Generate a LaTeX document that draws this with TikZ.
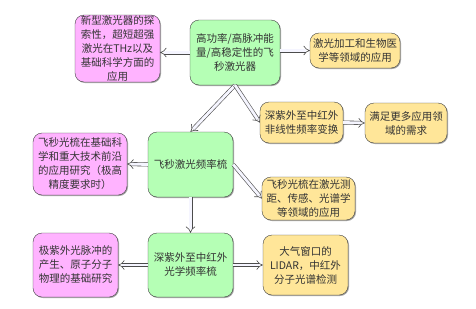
\documentclass[tikz,border=0pt]{standalone}
\usepackage{fontspec}
\newfontfamily\cjk{Noto Sans CJK SC}
\usetikzlibrary{arrows.meta,shadows}
\definecolor{boxpink}{HTML}{FFB3FF}
\definecolor{boxgreen}{HTML}{B5FFB5}
\definecolor{boxyellow}{HTML}{FFE699}

\begin{document}
\begin{tikzpicture}[x=1pt, y=-1pt,
  box/.style={draw=black!75, rounded corners=9pt, inner sep=0pt,
              align=center, text=black!80,
              font=\cjk\fontsize{10.5}{14}\selectfont,
              drop shadow={shadow xshift=1pt, shadow yshift=-1pt,
                           fill=black!60, opacity=.6}},
  srcbox/.style={box, fill=boxgreen},
  usebox/.style={box, fill=boxyellow},
  sciencebox/.style={box, fill=boxpink},
  flow/.style={draw=black!70, line width=0.6pt, double=blue!4,
               double distance=2.8pt, -{Implies[scale=1.2]}},
]
\useasboundingbox (0,0) rectangle (476,308);

% top row
\node[sciencebox, minimum width=85pt, minimum height=67pt] (newtype) at (117.5, 48.5)
  {新型激光器的探\\索性，超短超强\\激光在THz以及\\基础科学方面的\\应用};
\node[srcbox, minimum width=90pt, minimum height=65pt] (laser) at (235, 52.5)
  {高功率/高脉冲能\\量/高稳定性的飞\\秒激光器};
\node[usebox, minimum width=90pt, minimum height=35pt] (proc) at (355, 50.5)
  {激光加工和生物医\\学等领域的应用};

% conversion
\node[usebox, minimum width=83pt, minimum height=41pt] (nlf) at (301.5, 122.5)
  {深紫外至中红外\\非线性频率变换};
\node[usebox, minimum width=82pt, minimum height=40pt] (demand) at (406, 123)
  {满足更多应用领\\域的需求};

% frequency comb
\node[sciencebox, minimum width=94pt, minimum height=62pt] (basic) at (80, 164)
  {飞秒光梳在基础科\\学和重大技术前沿\\的应用研究（极高\\精度要求时）};
\node[srcbox, minimum width=85pt, minimum height=65pt] (comb) at (190.5, 164.5)
  {飞秒激光频率梳};
\node[usebox, minimum width=93pt, minimum height=43pt] (app) at (308.5, 198.5)
  {飞秒光梳在激光测\\距、传感、光谱学\\等领域的应用};

% bottom row
\node[sciencebox, minimum width=85pt, minimum height=64pt] (xuv) at (75.5, 265)
  {极紫外光脉冲的\\产生、原子分子\\物理的基础研究};
\node[srcbox, minimum width=85pt, minimum height=64pt] (uvcomb) at (190.5, 265)
  {深紫外至中红外\\光学频率梳};
\node[usebox, minimum width=85pt, minimum height=60pt] (lidar) at (305.5, 265)
  {大气窗口的\\LIDAR，中红外\\分子光谱检测};

\draw[flow] (laser.west) -- (newtype.east |- laser.west);
\draw[flow] (laser.east |- proc.west) -- (proc.west);
\draw[flow] (laser.south) -- (comb.north);
\draw[flow] (laser.south) -- (nlf.west);
\draw[flow] (nlf.east) -- (demand.west);
\draw[flow] (comb.west) -- (basic.east);
\draw[flow] (comb.east) -- (app.west);
\draw[flow] (comb.south) -- (uvcomb.north);
\draw[flow] (uvcomb.west) -- (xuv.east);
\draw[flow] (uvcomb.east) -- (lidar.west);
\end{tikzpicture}
\end{document}
